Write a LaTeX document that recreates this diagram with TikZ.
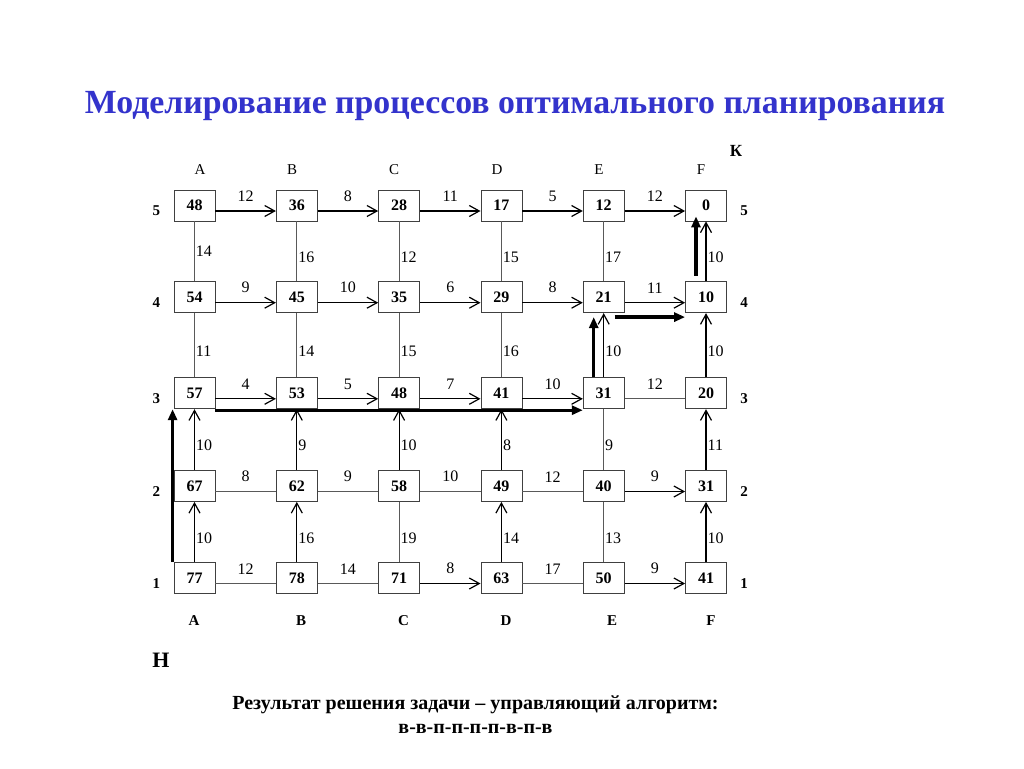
\documentclass[tikz,border=0pt]{standalone}
\usepackage{fontspec}
\setmainfont{Liberation Serif}
\usetikzlibrary{arrows.meta,positioning}
\definecolor{titleblue}{RGB}{51,51,204}

\begin{document}
\begin{tikzpicture}[x=1pt,y=-1pt,
  cell/.style={rectangle,draw=black!75,line width=0.8pt,minimum width=41pt,minimum height=31pt,inner sep=0pt,font=\bfseries\fontsize{16}{16}\selectfont},
  link/.style={draw=black!65,line width=0.9pt},
  arr/.style={line width=1.2pt,-{Straight Barb[length=10pt,width=11pt]}},
  path arr/.style={line width=3.3pt,-{Triangle[length=11pt,width=9pt]}},
  lo/.style={yshift=-5.5pt},
  hlab/.style={midway,above=8pt,inner sep=1pt,font=\fontsize{16}{16}\selectfont},
  vlab/.style={midway,right,inner sep=1pt,yshift=-6pt,font=\fontsize{16}{16}\selectfont},
  colname/.style={font=\fontsize{15}{15}\selectfont},
  rowname/.style={font=\bfseries\fontsize{15}{15}\selectfont}]
\path[fill=white] (0,0) rectangle (1024,768);

\node[font=\bfseries\fontsize{33.8}{34}\selectfont,text=titleblue] (title) at (515,106) {Моделирование процессов оптимального планирования};

\node[cell] (a5) at (194.5,205.5) {48};
\node[cell] (b5) at (296.8,205.5) {36};
\node[cell] (c5) at (399.1,205.5) {28};
\node[cell] (d5) at (501.4,205.5) {17};
\node[cell] (e5) at (603.7,205.5) {12};
\node[cell] (f5) at (706.0,205.5) {0};

\node[cell] (a4) at (194.5,297.2) {54};
\node[cell] (b4) at (296.8,297.2) {45};
\node[cell] (c4) at (399.1,297.2) {35};
\node[cell] (d4) at (501.4,297.2) {29};
\node[cell] (e4) at (603.7,297.2) {21};
\node[cell] (f4) at (706.0,297.2) {10};

\node[cell] (a3) at (194.5,393.3) {57};
\node[cell] (b3) at (296.8,393.3) {53};
\node[cell] (c3) at (399.1,393.3) {48};
\node[cell] (d3) at (501.4,393.3) {41};
\node[cell] (e3) at (603.7,393.3) {31};
\node[cell] (f3) at (706.0,393.3) {20};

\node[cell] (a2) at (194.5,486) {67};
\node[cell] (b2) at (296.8,486) {62};
\node[cell] (c2) at (399.1,486) {58};
\node[cell] (d2) at (501.4,486) {49};
\node[cell] (e2) at (603.7,486) {40};
\node[cell] (f2) at (706.0,486) {31};

\node[cell] (a1) at (194.5,578) {77};
\node[cell] (b1) at (296.8,578) {78};
\node[cell] (c1) at (399.1,578) {71};
\node[cell] (d1) at (501.4,578) {63};
\node[cell] (e1) at (603.7,578) {50};
\node[cell] (f1) at (706.0,578) {41};

% column and row names
\node[colname] (ta) at (200,170) {A};
\node[colname] (tb) at (292,170) {B};
\node[colname] (tc) at (394,170) {C};
\node[colname] (td) at (497,170) {D};
\node[colname] (te) at (599,170) {E};
\node[colname] (tf) at (701,170) {F};
\node[rowname] (ba) at (194,621) {A};
\node[rowname] (bb) at (301,621) {B};
\node[rowname] (bc) at (403.5,621) {C};
\node[rowname] (bd) at (506,621) {D};
\node[rowname] (be) at (612,621) {E};
\node[rowname] (bf) at (711,621) {F};
\node[rowname,left=10pt of a5.west,yshift=-5.5pt] (l5) {5};
\node[rowname,left=10pt of a4.west,yshift=-5.5pt] (l4) {4};
\node[rowname,left=10pt of a3.west,yshift=-5.5pt] (l3) {3};
\node[rowname,left=10pt of a2.west,yshift=-5.5pt] (l2) {2};
\node[rowname,left=10pt of a1.west,yshift=-5.5pt] (l1) {1};
\node[rowname,right=10pt of f5.east,yshift=-5.5pt] (r5) {5};
\node[rowname,right=10pt of f4.east,yshift=-5.5pt] (r4) {4};
\node[rowname,right=10pt of f3.east,yshift=-5.5pt] (r3) {3};
\node[rowname,right=10pt of f2.east,yshift=-5.5pt] (r2) {2};
\node[rowname,right=10pt of f1.east,yshift=-5.5pt] (r1) {1};
\node[font=\bfseries\fontsize{17}{17}\selectfont] (fin) at (736,151) {К};
\node[font=\bfseries\fontsize{22}{22}\selectfont] (start) at (161,660) {Н};

% horizontal links
\draw[arr] ([lo]a5.east) -- ([lo]b5.west) node[hlab]{12};
\draw[arr] ([lo]b5.east) -- ([lo]c5.west) node[hlab]{8};
\draw[arr] ([lo]c5.east) -- ([lo]d5.west) node[hlab]{11};
\draw[arr] ([lo]d5.east) -- ([lo]e5.west) node[hlab]{5};
\draw[arr] ([lo]e5.east) -- ([lo]f5.west) node[hlab]{12};

\draw[arr] ([lo]a4.east) -- ([lo]b4.west) node[hlab]{9};
\draw[arr] ([lo]b4.east) -- ([lo]c4.west) node[hlab]{10};
\draw[arr] ([lo]c4.east) -- ([lo]d4.west) node[hlab]{6};
\draw[arr] ([lo]d4.east) -- ([lo]e4.west) node[hlab]{8};
\draw[arr] ([lo]e4.east) -- ([lo]f4.west) node[hlab]{11};

\draw[arr] ([lo]a3.east) -- ([lo]b3.west) node[hlab]{4};
\draw[arr] ([lo]b3.east) -- ([lo]c3.west) node[hlab]{5};
\draw[arr] ([lo]c3.east) -- ([lo]d3.west) node[hlab]{7};
\draw[arr] ([lo]d3.east) -- ([lo]e3.west) node[hlab]{10};
\draw[link] ([lo]e3.east) -- ([lo]f3.west) node[hlab]{12};

\draw[link] ([lo]a2.east) -- ([lo]b2.west) node[hlab]{8};
\draw[link] ([lo]b2.east) -- ([lo]c2.west) node[hlab]{9};
\draw[link] ([lo]c2.east) -- ([lo]d2.west) node[hlab]{10};
\draw[link] ([lo]d2.east) -- ([lo]e2.west) node[hlab]{12};
\draw[arr] ([lo]e2.east) -- ([lo]f2.west) node[hlab]{9};

\draw[link] ([lo]a1.east) -- ([lo]b1.west) node[hlab]{12};
\draw[link] ([lo]b1.east) -- ([lo]c1.west) node[hlab]{14};
\draw[arr] ([lo]c1.east) -- ([lo]d1.west) node[hlab]{8};
\draw[link] ([lo]d1.east) -- ([lo]e1.west) node[hlab]{17};
\draw[arr] ([lo]e1.east) -- ([lo]f1.west) node[hlab]{9};

% vertical links
\draw[link] (a5) -- (a4) node[vlab,yshift=6pt]{14};
\draw[link] (b5) -- (b4) node[vlab]{16};
\draw[link] (c5) -- (c4) node[vlab]{12};
\draw[link] (d5) -- (d4) node[vlab]{15};
\draw[link] (e5) -- (e4) node[vlab]{17};
\draw[arr] (f4) -- (f5) node[vlab]{10};

\draw[link] (a4) -- (a3) node[vlab]{11};
\draw[link] (b4) -- (b3) node[vlab]{14};
\draw[link] (c4) -- (c3) node[vlab]{15};
\draw[link] (d4) -- (d3) node[vlab]{16};
\draw[arr] (e3) -- (e4) node[vlab]{10};
\draw[arr] (f3) -- (f4) node[vlab]{10};

\draw[arr] (a2) -- (a3) node[vlab]{10};
\draw[arr] (b2) -- (b3) node[vlab]{9};
\draw[arr] (c2) -- (c3) node[vlab]{10};
\draw[arr] (d2) -- (d3) node[vlab]{8};
\draw[link] (e3) -- (e2) node[vlab]{9};
\draw[arr] (f2) -- (f3) node[vlab]{11};

\draw[arr] (a1) -- (a2) node[vlab]{10};
\draw[arr] (b1) -- (b2) node[vlab]{16};
\draw[link] (c2) -- (c1) node[vlab]{19};
\draw[arr] (d1) -- (d2) node[vlab]{14};
\draw[link] (e2) -- (e1) node[vlab]{13};
\draw[arr] (f1) -- (f2) node[vlab]{10};

% optimal path
\draw[path arr] ([xshift=-1pt]a1.north west) -- ([xshift=-1pt]a3.south west);
\draw[path arr] ([yshift=-1pt]a3.south east) -- ([yshift=-1pt]e3.south west);
\draw[path arr] ([xshift=-10pt]e3.north) -- ([xshift=-10pt,yshift=-4pt]e4.south);
\draw[path arr] ([xshift=-10pt,yshift=-4pt]e4.south east) -- ([yshift=-4pt]f4.south west);
\draw[path arr] ([xshift=-10pt,yshift=5.5pt]f4.north) -- ([xshift=-10pt,yshift=5pt]f5.south);

\node[font=\bfseries\fontsize{20}{20}\selectfont] (result) at (475.5,705) {Результат решения задачи – управляющий алгоритм:};
\node[font=\bfseries\fontsize{20}{20}\selectfont,below=3pt of result] (algo) {в-в-п-п-п-п-в-п-в};
\end{tikzpicture}
\end{document}
